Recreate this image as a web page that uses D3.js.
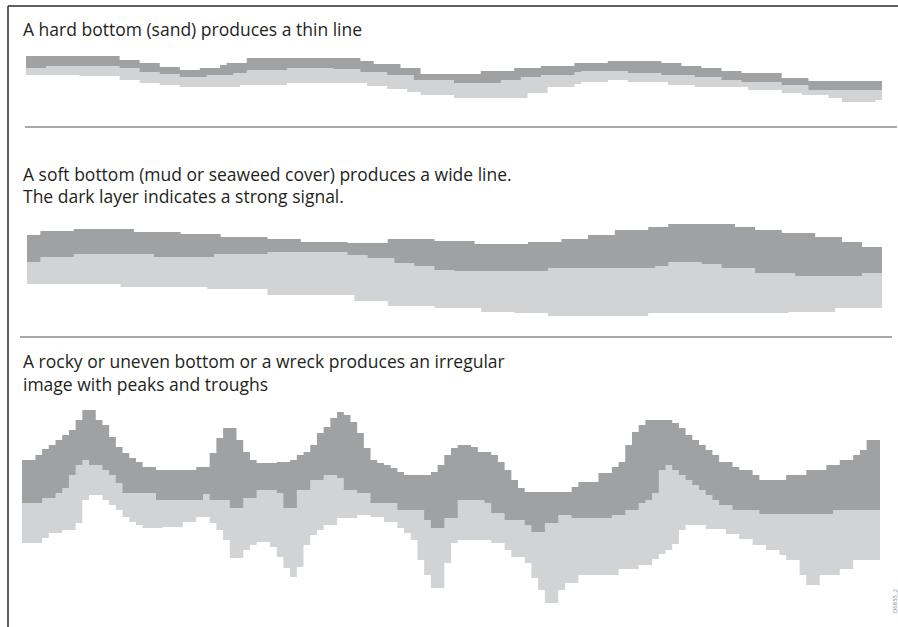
<!DOCTYPE html>
<html>
<head>
<meta charset="utf-8">
<script src="https://cdn.jsdelivr.net/npm/d3@7"></script>
<style>
  body { margin: 0; background: #fff; }
  svg { display: block; }
  text { font-family: "Open Sans", "Noto Sans", sans-serif; }
</style>
</head>
<body>
<svg id="chart"></svg>
<script>
const width = 898;
const height = 627;
const pings = 128;

// captions, one entry per text line
const hardCaption = ['A hard bottom (sand) produces a thin line'];
const softCaption = ['A soft bottom (mud or seaweed cover) produces a wide line.',
                     'The dark layer indicates a strong signal.'];
const rockCaption = ['A rocky or uneven bottom or a wreck produces an irregular',
                     'image with peaks and troughs'];
const figureId = 'D6855_2';

// echo edges as [ping, depth] where the depth changes (steps)
// top = start of strong echo, mid = strong -> weak, bottom = end of echo
const hardTop = [[0,6],[14,10],[17,13],[20,17],[23,20],[26,18],[29,15],[30,13],[33,8],[50,11],[52,14],
  [56,18],[59,24],[68,21],[73,18],[77,16],[82,13],[87,11],[95,13],[98,16],[101,18],[104,21],[107,23],
  [113,28],[117,31]];
const hardMid = [[0,18],[3,16],[14,18],[17,22],[20,24],[23,27],[27,25],[31,23],[33,20],[39,18],[46,19],
  [50,22],[54,25],[58,30],[64,33],[71,30],[74,27],[77,25],[82,22],[83,21],[90,23],[95,25],[100,27],
  [104,30],[107,32],[113,35],[117,40]];
const hardBottom = [[0,25],[8,26],[14,30],[17,33],[20,35],[23,37],[32,35],[39,33],[47,33],[51,36],
  [54,39],[57,42],[59,45],[64,48],[75,43],[78,37],[82,34],[83,32],[87,30],[90,32],[96,35],[100,37],
  [108,40],[113,43],[116,45],[120,48],[122,52],[127,50]];

const softTop = [[0,15],[2,11],[7,9],[16,12],[23,14],[29,17],[36,19],[41,22],[48,23],[54,19],[61,21],
  [67,24],[75,22],[80,19],[84,15],[88,10],[93,7],[96,4],[106,7],[109,10],[113,13],[118,17],[122,22],
  [125,27]];
const softMid = [[0,42],[2,37],[7,34],[19,37],[28,34],[36,32],[48,35],[51,38],[55,43],[58,46],[61,50],
  [64,51],[78,48],[94,46],[96,42],[101,44],[104,48],[109,53],[115,56],[125,53]];
const softBottom = [[0,64],[14,67],[27,69],[36,75],[49,81],[54,86],[61,88],[68,92],[73,93],[78,96],
  [93,93],[114,92],[121,88]];

const rockTop = [[0,60],[2,55],[3,49],[4,45],[5,40],[6,35],[7,30],[8,20],[9,10],[11,20],[12,25],[13,37],
  [14,47],[15,53],[16,58],[17,62],[18,67],[20,70],[26,67],[28,53],[29,38],[30,28],[32,40],[33,52],
  [34,60],[35,63],[38,62],[40,60],[41,55],[42,52],[43,45],[44,33],[45,27],[46,18],[47,12],[48,15],
  [49,22],[50,33],[51,48],[52,60],[53,63],[54,65],[55,68],[56,72],[57,75],[61,72],[62,65],[63,55],
  [64,48],[65,45],[67,47],[68,52],[70,55],[71,62],[72,70],[73,80],[74,88],[75,92],[82,87],[83,82],
  [86,73],[88,67],[89,62],[90,45],[91,32],[92,25],[93,20],[97,23],[98,28],[99,35],[100,40],[101,45],
  [102,50],[103,55],[104,62],[106,67],[107,70],[109,75],[110,80],[114,75],[117,70],[120,65],[122,60],
  [124,55],[125,50],[126,40]];
const rockMid = [[0,103],[3,98],[5,93],[6,88],[7,75],[8,65],[9,60],[10,65],[12,70],[13,75],[14,83],
  [15,93],[20,100],[27,94],[28,100],[31,108],[33,98],[35,90],[38,93],[39,108],[41,90],[43,80],[45,75],
  [47,78],[48,90],[50,93],[52,103],[56,110],[60,120],[61,128],[63,118],[65,100],[69,103],[70,113],
  [72,120],[75,125],[76,132],[78,123],[80,115],[82,118],[88,115],[90,110],[92,103],[93,100],[94,93],
  [95,70],[96,65],[97,70],[98,75],[99,80],[100,85],[101,90],[102,95],[103,100],[104,105],[106,110],
  [110,114],[121,110]];
const rockBottom = [[0,143],[3,138],[4,133],[6,130],[8,123],[9,100],[10,95],[12,100],[13,105],[14,110],
  [15,117],[16,122],[17,125],[18,128],[21,127],[24,122],[26,117],[28,123],[29,130],[30,140],[31,158],
  [33,150],[34,145],[35,142],[37,147],[38,157],[39,168],[40,177],[41,167],[42,145],[43,135],[44,130],
  [45,125],[47,118],[50,115],[52,117],[54,122],[56,128],[57,133],[58,140],[59,160],[60,175],[61,188],
  [63,163],[64,143],[65,140],[70,143],[72,150],[73,157],[75,163],[76,178],[77,190],[78,203],[80,190],
  [81,183],[83,175],[89,169],[92,165],[94,159],[95,154],[96,150],[97,144],[98,130],[99,125],[102,129],
  [105,134],[107,139],[109,145],[111,150],[113,155],[114,160],[116,175],[117,185],[119,175],[122,169],
  [124,160]];

const strongColor = '#a0a1a3';
const weakColor = '#d2d3d5';
const inkColor = '#231f20';

// layout of the three panels
const panels = [
  {caption: hardCaption, textY: 36, lineGap: 22, x0: 26, x1: 882, y0: 50, depthMax: 65,
   top: hardTop, mid: hardMid, bottom: hardBottom},
  {caption: softCaption, textY: 181, lineGap: 22, x0: 27, x1: 882, y0: 220, depthMax: 105,
   top: softTop, mid: softMid, bottom: softBottom},
  {caption: rockCaption, textY: 368, lineGap: 23, x0: 22, x1: 880, y0: 400, depthMax: 215,
   top: rockTop, mid: rockMid, bottom: rockBottom}
];

const svg = d3.select('#chart')
  .attr('width', width)
  .attr('height', height);

// frame and separators
svg.append('line').attr('x1', 8).attr('y1', 6).attr('x2', width).attr('y2', 6)
  .attr('stroke', '#2b2b2b').attr('stroke-width', 1.5);
svg.append('line').attr('x1', 8).attr('y1', 6).attr('x2', 8).attr('y2', height)
  .attr('stroke', '#2b2b2b').attr('stroke-width', 1.5);
svg.append('line').attr('x1', 25).attr('y1', 127).attr('x2', 897).attr('y2', 127)
  .attr('stroke', '#555').attr('stroke-width', 1.2);
svg.append('line').attr('x1', 20).attr('y1', 337).attr('x2', 892).attr('y2', 337)
  .attr('stroke', '#555').attr('stroke-width', 1.2);

panels.forEach(p => {
  const x = d3.scaleLinear().domain([0, pings]).range([p.x0, p.x1]);
  const y = d3.scaleLinear().domain([0, p.depthMax]).range([p.y0, p.y0 + p.depthMax]);

  const area = d3.area()
    .x(d => x(d[0]))
    .y0(y(p.depthMax))
    .y1(d => y(d[1]))
    .curve(d3.curveStepAfter);

  // close each step line at the last ping
  const closed = edge => edge.concat([[pings, edge[edge.length - 1][1]]]);

  // painted from the top edge down: strong, weak, then clear water below
  const g = svg.append('g');
  g.append('path').datum(closed(p.top)).attr('d', area).attr('fill', strongColor);
  g.append('path').datum(closed(p.mid)).attr('d', area).attr('fill', weakColor);
  g.append('path').datum(closed(p.bottom)).attr('d', area).attr('fill', '#fff');

  svg.append('g').selectAll('text')
    .data(p.caption)
    .enter()
    .append('text')
    .attr('x', 23)
    .attr('y', (d, i) => p.textY + i * p.lineGap)
    .attr('font-size', 17.5)
    .attr('fill', inkColor)
    .text(d => d);
});

svg.append('text')
  .attr('transform', 'translate(897, 601) rotate(-90)')
  .attr('text-anchor', 'middle')
  .attr('font-size', 6)
  .attr('fill', '#888')
  .text(figureId);
</script>
</body>
</html>
